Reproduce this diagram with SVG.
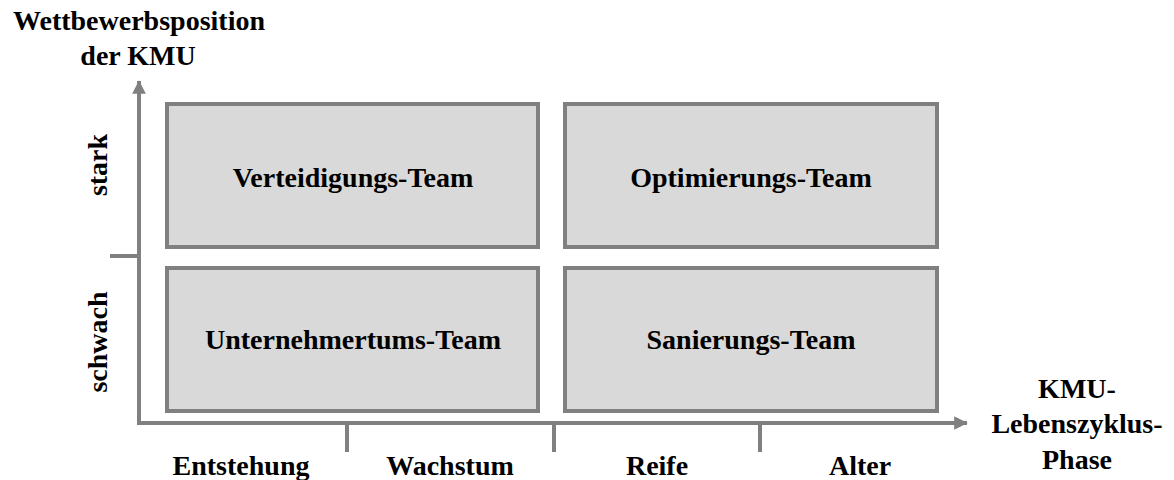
<svg xmlns="http://www.w3.org/2000/svg" width="1174" height="480" viewBox="0 0 1174 480">
<style>
.t{font-family:"Liberation Serif","Times New Roman",serif;font-weight:bold;font-size:28px;fill:#000;text-anchor:middle}
.box{fill:#d9d9d9;stroke:#808080;stroke-width:4}
.ax{stroke:#808080;stroke-width:4;fill:none}
</style>
<defs>
<marker id="ah" markerWidth="4" markerHeight="4" refX="3.2" refY="2" orient="auto" markerUnits="strokeWidth">
<path d="M0,0.3 L3.4,2 L0,3.7 Z" fill="#808080"/>
</marker>
</defs>
<rect width="1174" height="480" fill="#fff"/>
<g id="connectors">
<line class="ax" x1="139" y1="425" x2="139" y2="81" marker-end="url(#ah)"/>
<line class="ax" x1="137" y1="423" x2="967" y2="423" marker-end="url(#ah)"/>
<line class="ax" x1="110" y1="256" x2="139" y2="256"/>
<line class="ax" x1="347" y1="423" x2="347" y2="452"/>
<line class="ax" x1="554" y1="423" x2="554" y2="452"/>
<line class="ax" x1="760" y1="423" x2="760" y2="452"/>
</g>
<g id="verteidigung"><rect class="box" x="167" y="104" width="371" height="143"/><text class="t" x="353" y="187">Verteidigungs-Team</text></g>
<g id="optimierung"><rect class="box" x="565" y="104" width="372" height="143"/><text class="t" x="751" y="187">Optimierungs-Team</text></g>
<g id="unternehmertum"><rect class="box" x="167" y="268" width="371" height="143"/><text class="t" x="353" y="349">Unternehmertums-Team</text></g>
<g id="sanierung"><rect class="box" x="565" y="268" width="372" height="143"/><text class="t" x="751" y="349">Sanierungs-Team</text></g>
<g id="labels">
<text class="t" x="139" y="30">Wettbewerbsposition</text>
<text class="t" x="138" y="65">der KMU</text>
<text class="t" transform="translate(107,165) rotate(-90)">stark</text>
<text class="t" transform="translate(107,342) rotate(-90)">schwach</text>
<text class="t" x="241" y="475">Entstehung</text>
<text class="t" x="450" y="475">Wachstum</text>
<text class="t" x="657" y="475">Reife</text>
<text class="t" x="860" y="475">Alter</text>
<text class="t" x="1077" y="398">KMU-</text>
<text class="t" x="1077" y="433">Lebenszyklus-</text>
<text class="t" x="1077" y="469">Phase</text>
</g>
</svg>
